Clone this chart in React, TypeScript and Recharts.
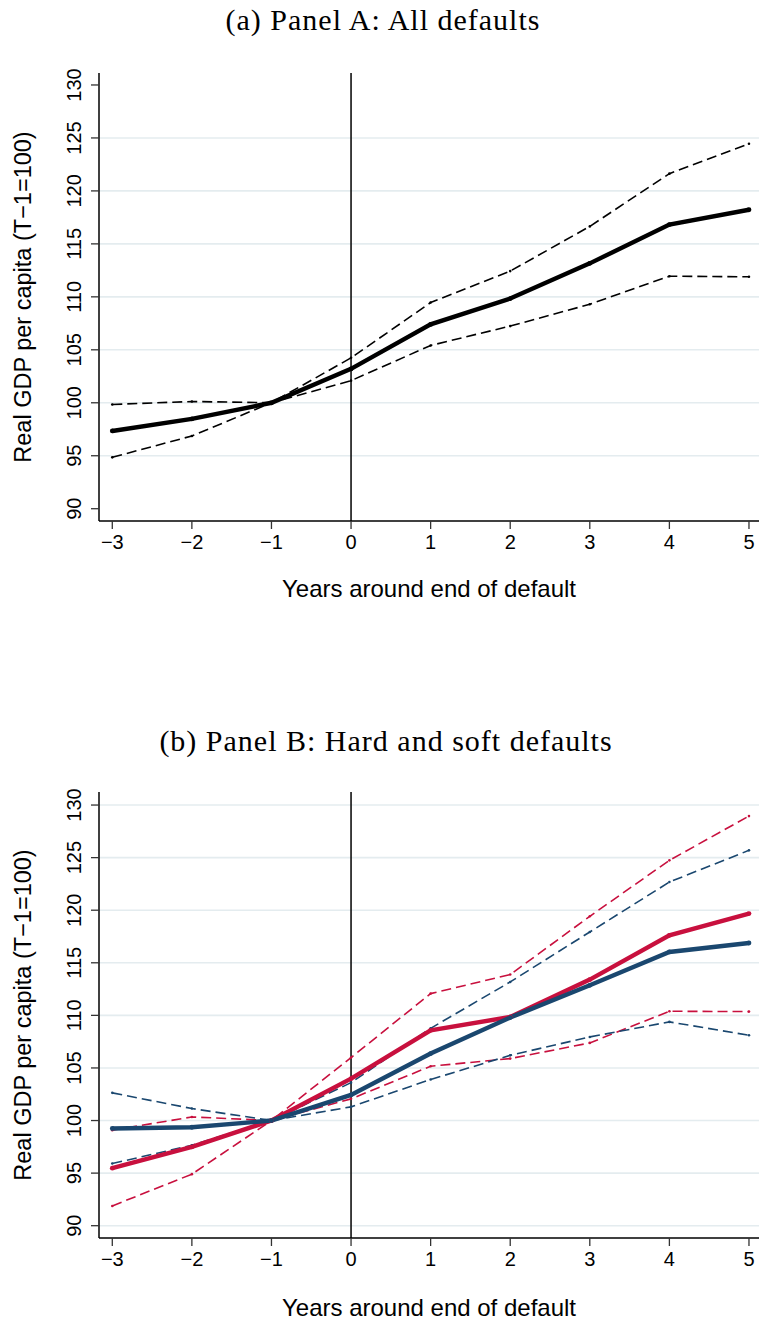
import React from 'react';
import { LineChart, Line, XAxis, YAxis, ReferenceLine } from 'recharts';

// Event-time axis (years relative to the end of the default episode)
const years = [-3, -2, -1, 0, 1, 2, 3, 4, 5];
const yearLabels = ['\u22123', '\u22122', '\u22121', '0', '1', '2', '3', '4', '5'];
const gdpTicks = [90, 95, 100, 105, 110, 115, 120, 125, 130];
const gridA = [95, 100, 105, 110, 115, 120, 125];
const gridB = [90, 95, 100, 105, 110, 115, 120, 125, 130];

// Panel A: all defaults (mean and confidence band)
const allMean = [97.34, 98.48, 100, 103.2, 107.4, 109.84, 113.16, 116.82, 118.22];
const allUpper = [99.84, 100.12, 100, 104.24, 109.46, 112.43, 116.65, 121.63, 124.45];
const allLower = [94.85, 96.87, 100, 102.09, 105.41, 107.24, 109.3, 111.95, 111.89];

// Panel B: hard defaults (red) and soft defaults (blue)
const hardMean = [95.47, 97.49, 100, 103.99, 108.58, 109.85, 113.4, 117.61, 119.68];
const hardUpper = [99.08, 100.34, 100, 105.99, 112.07, 113.88, 119.42, 124.74, 128.95];
const hardLower = [91.88, 94.9, 100, 102.06, 105.16, 105.89, 107.38, 110.39, 110.36];
const softMean = [99.24, 99.36, 100, 102.44, 106.37, 109.79, 112.86, 116.03, 116.88];
const softUpper = [102.63, 101.14, 100, 103.6, 108.77, 113.18, 117.93, 122.68, 125.69];
const softLower = [95.91, 97.65, 100, 101.3, 103.9, 106.2, 107.95, 109.38, 108.11];

const panelATitle = '(a) Panel A: All defaults';
const panelBTitle = '(b) Panel B: Hard and soft defaults';
const xTitle = 'Years around end of default';
const yTitle = 'Real GDP per capita (T\u22121=100)';

const BLACK = '#000000';
const RED = '#c8103e';
const NAVY = '#1a476f';
const GRID = '#e4ecef';
const SANS = '"Liberation Sans", Arial, sans-serif';
const SERIF = '"Liberation Serif", "Times New Roman", serif';

const W = 759;
const X_DOMAIN: [number, number] = [-3.167, 5.126];

const dataA = years.map((t, i) => ({ t, mean: allMean[i], upper: allUpper[i], lower: allLower[i] }));
const dataB = years.map((t, i) => ({
  t,
  hardMean: hardMean[i],
  hardUpper: hardUpper[i],
  hardLower: hardLower[i],
  softMean: softMean[i],
  softUpper: softUpper[i],
  softLower: softLower[i],
}));

type SeriesSpec = { key: string; color: string; dashed: boolean };

const seriesA: SeriesSpec[] = [
  { key: 'upper', color: BLACK, dashed: true },
  { key: 'lower', color: BLACK, dashed: true },
  { key: 'mean', color: BLACK, dashed: false },
];

const seriesB: SeriesSpec[] = [
  { key: 'hardUpper', color: RED, dashed: true },
  { key: 'hardLower', color: RED, dashed: true },
  { key: 'softUpper', color: NAVY, dashed: true },
  { key: 'softLower', color: NAVY, dashed: true },
  { key: 'hardMean', color: RED, dashed: false },
  { key: 'softMean', color: NAVY, dashed: false },
];

const XTick = (props: any) => {
  const { x, y, payload } = props;
  const idx = years.indexOf(payload.value);
  return (
    <text x={x} y={y} dy="0.71em" textAnchor="middle" fontFamily={SANS} fontSize={20} fill="#000">
      {idx >= 0 ? yearLabels[idx] : payload.value}
    </text>
  );
};

const YTick = (props: any) => {
  const { x, y, payload } = props;
  return (
    <text
      x={x}
      y={y}
      textAnchor="middle"
      transform={`rotate(-90, ${x}, ${y})`}
      fontFamily={SANS}
      fontSize={20}
      fill="#000"
    >
      {payload.value}
    </text>
  );
};

type PanelProps = {
  top: number;
  height: number;
  plotTop: number;
  plotBottom: number;
  yDomain: [number, number];
  grid: number[];
  data: any[];
  series: SeriesSpec[];
};

function Panel({ top, height, plotTop, plotBottom, yDomain, grid, data, series }: PanelProps) {
  const xAxisH = 40;
  const yAxisW = 60;
  return (
    <div style={{ position: 'absolute', left: 0, top, width: W, height }}>
      <LineChart
        width={W}
        height={height}
        data={data}
        margin={{ top: plotTop, right: 0, bottom: height - plotBottom - xAxisH, left: 99 - yAxisW }}
      >
        <XAxis
          dataKey="t"
          type="number"
          domain={X_DOMAIN}
          ticks={years}
          interval={0}
          allowDataOverflow
          height={xAxisH}
          tickSize={8}
          tickMargin={6}
          axisLine={{ stroke: '#000', strokeWidth: 1.5 }}
          tickLine={{ stroke: '#333', strokeWidth: 1.3 }}
          tick={<XTick />}
        />
        <YAxis
          type="number"
          domain={yDomain}
          ticks={gdpTicks}
          interval={0}
          allowDataOverflow
          width={yAxisW}
          tickSize={8}
          tickMargin={10}
          axisLine={{ stroke: '#000', strokeWidth: 1.5 }}
          tickLine={{ stroke: '#333', strokeWidth: 1.3 }}
          tick={<YTick />}
        />
        {grid.map((v) => (
          <ReferenceLine key={`g${v}`} y={v} stroke={GRID} strokeWidth={1.6} />
        ))}
        <ReferenceLine x={0} stroke="#111" strokeWidth={1.6} />
        {series.map((s) => (
          <Line
            key={s.key}
            dataKey={s.key}
            type="linear"
            stroke={s.color}
            strokeWidth={s.dashed ? 1.6 : 4.4}
            strokeDasharray={s.dashed ? '10 5' : undefined}
            dot={{ r: s.dashed ? 1.3 : 2.4, fill: s.color, stroke: s.color, strokeWidth: 0 }}
            activeDot={false}
            isAnimationActive={false}
          />
        ))}
      </LineChart>
    </div>
  );
}

export default function App() {
  return (
    <div
      style={{
        position: 'absolute',
        left: 0,
        top: 0,
        width: W,
        height: 1321,
        background: '#fff',
        overflow: 'hidden',
      }}
    >
      <Panel
        top={0}
        height={600}
        plotTop={73}
        plotBottom={521}
        yDomain={[88.84, 131.13]}
        grid={gridA}
        data={dataA}
        series={seriesA}
      />
      <Panel
        top={700}
        height={621}
        plotTop={92}
        plotBottom={538}
        yDomain={[88.83, 131.24]}
        grid={gridB}
        data={dataB}
        series={seriesB}
      />
      <svg
        width={W}
        height={1321}
        style={{ position: 'absolute', left: 0, top: 0, pointerEvents: 'none' }}
      >
        <text x={383} y={30} textAnchor="middle" fontFamily={SERIF} fontSize={30} letterSpacing={1} fill="#000">
          {panelATitle}
        </text>
        <text x={386} y={751} textAnchor="middle" fontFamily={SERIF} fontSize={30} letterSpacing={1} fill="#000">
          {panelBTitle}
        </text>
        <text x={429} y={597} textAnchor="middle" fontFamily={SANS} fontSize={24} fill="#000">
          {xTitle}
        </text>
        <text x={429} y={1316} textAnchor="middle" fontFamily={SANS} fontSize={24} fill="#000">
          {xTitle}
        </text>
        <text
          x={31}
          y={297}
          textAnchor="middle"
          transform="rotate(-90, 31, 297)"
          fontFamily={SANS}
          fontSize={23.5}
          fill="#000"
        >
          {yTitle}
        </text>
        <text
          x={31}
          y={1015}
          textAnchor="middle"
          transform="rotate(-90, 31, 1015)"
          fontFamily={SANS}
          fontSize={23.5}
          fill="#000"
        >
          {yTitle}
        </text>
      </svg>
    </div>
  );
}
